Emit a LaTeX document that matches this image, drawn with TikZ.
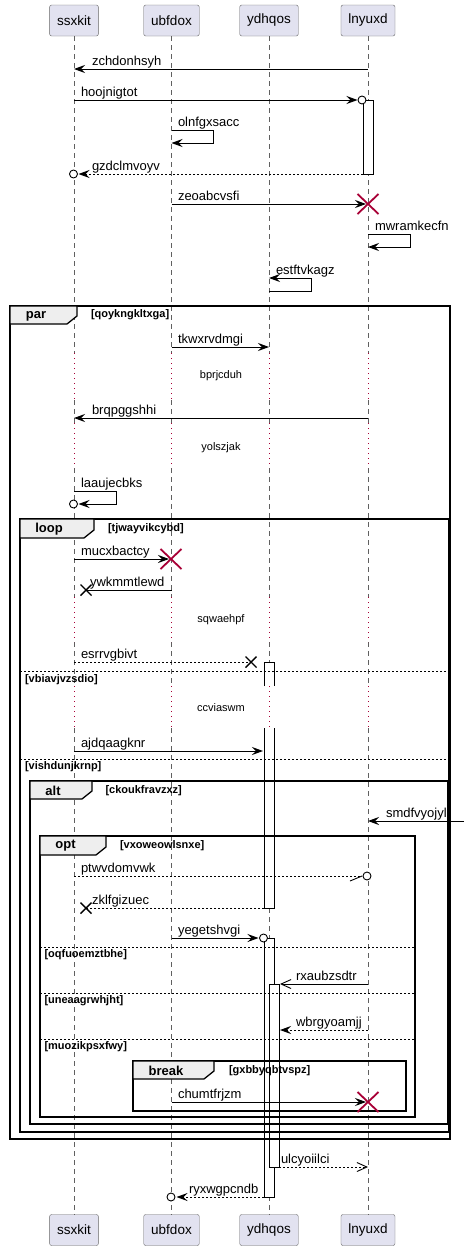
\documentclass[tikz,border=0pt]{standalone}
\usepackage{fontspec}
\setmainfont{Liberation Sans}
\usetikzlibrary{arrows.meta}
\definecolor{partfill}{HTML}{E2E2F0}
\definecolor{killred}{HTML}{A80036}
\definecolor{tabfill}{HTML}{EEEEEE}
\definecolor{lifegray}{HTML}{606060}

\begin{document}
\begin{tikzpicture}[x=1pt, y=-1pt,
  every node/.style={inner sep=0pt, outer sep=0pt},
  part/.style={draw=black!60, fill=partfill, rounded corners=2pt, minimum height=31pt, inner xsep=7.5pt, font=\fontsize{13.5}{16}\selectfont},
  life/.style={lifegray, line width=0.7pt, dash pattern=on 5pt off 4pt},
  pause/.style={killred, line width=0.9pt, dash pattern=on 1pt off 4pt},
  actbox/.style={fill=white},
  actline/.style={black, line width=0.9pt},
  frame/.style={draw=black, line width=1.3pt},
  tab/.style={draw=black, fill=tabfill, line width=1.3pt},
  sep/.style={black, line width=0.8pt, dash pattern=on 2pt off 2pt},
  tabtxt/.style={font=\fontsize{13}{15}\bfseries\selectfont},
  cond/.style={anchor=west, font=\fontsize{11}{13}\bfseries\selectfont},
  msg/.style={line width=0.9pt, -{Stealth[length=11pt, width=8pt, inset=4pt]}},
  ret/.style={msg, dash pattern=on 2pt off 2pt},
  async/.style={line width=0.9pt, -{Straight Barb[length=10pt, width=9pt]}},
  plain/.style={line width=0.9pt},
  lbl/.style={anchor=base west, font=\fontsize{13}{15}\selectfont},
  delaytxt/.style={font=\fontsize{11}{13}\selectfont},
  ring/.style={circle, draw=black, fill=white, line width=0.9pt, minimum size=8pt},
  kill/.style={killred, line width=1.8pt},
  lost/.style={black, line width=1.4pt}]
\useasboundingbox (0,0) rectangle (464,1251);

% participants
\node[part] (ssxkit) at (74,20.5) {ssxkit};
\node[part] (ubfdox) at (171.5,20.5) {ubfdox};
\node[part] (ydhqos) at (269,20.5) {ydhqos};
\node[part] (lnyuxd) at (368,20.5) {lnyuxd};
\node[part] (ssxkit-b) at (74,1230) {ssxkit};
\node[part] (ubfdox-b) at (171.5,1230) {ubfdox};
\node[part] (ydhqos-b) at (269,1230) {ydhqos};
\node[part] (lnyuxd-b) at (368,1230) {lnyuxd};

% group tabs (filled first, lifelines run over them)
\fill[tabfill] (10,306) -- (77,306) -- (77,316) -- (67,324) -- (10,324) -- cycle;
\fill[tabfill] (20,519) -- (94,519) -- (94,530) -- (84,538) -- (20,538) -- cycle;
\fill[tabfill] (30,781) -- (92,781) -- (92,791) -- (82,799) -- (30,799) -- cycle;
\fill[tabfill] (40,836) -- (106,836) -- (106,847) -- (96,855) -- (40,855) -- cycle;
\fill[tabfill] (133,1061) -- (214,1061) -- (214,1071) -- (204,1079) -- (133,1079) -- cycle;

% lifelines
\foreach \p in {ssxkit,ubfdox,ydhqos,lnyuxd} {
  \draw[life] (\p.south) -- (\p |- 0,353);
  \draw[life] (\p |- 0,400) -- (\p |- 0,423);
  \draw[life] (\p |- 0,468) -- (\p |- 0,597);
  \draw[life] (\p |- 0,642) -- (\p |- 0,686);
  \draw[life] (\p |- 0,728) -- (\p-b.north);
}

% activations
\fill[actbox] (363,100) rectangle (373,174);
\draw[actline] (363,100) rectangle (373,174);
\fill[actbox] (264,662) rectangle (274,908);
\draw[actline] (264,686) -- (264,662) -- (274,662) -- (274,686);
\draw[actline] (264,728) -- (264,908) -- (274,908) -- (274,728);
\fill[actbox] (264,938) rectangle (274,1197);
\draw[actline] (264,938) rectangle (274,1197);
\fill[actbox] (269,984) rectangle (279,1167);
\draw[actline] (269,984) rectangle (279,1167);

% delays
\foreach \p in {ssxkit,ubfdox,ydhqos,lnyuxd} {
  \draw[pause] (\p |- 0,353) -- (\p |- 0,400);
  \draw[pause] (\p |- 0,423) -- (\p |- 0,468);
  \draw[pause] (\p |- 0,597) -- (\p |- 0,642);
  \draw[pause] (\p |- 0,686) -- (\p |- 0,728);
}
\node[delaytxt] (d1) at (221,376) {bprjcduh};
\node[delaytxt] (d2) at (221,448) {yolszjak};
\node[delaytxt] (d3) at (221,620) {sqwaehpf};
\node[delaytxt] (d4) at (221,708) {ccviaswm};

% groups
\draw[frame] (10,306) rectangle (450,1139);
\draw[tab] (10,306) -- (77,306) -- (77,316) -- (67,324) -- (10,324) -- cycle;
\node[tabtxt] (parTab) at (36,316) {par};
\node[cond] (parCond) at (91,315) {[qoykngkltxga]};

\draw[frame] (20,519) rectangle (449,1132);
\draw[tab] (20,519) -- (94,519) -- (94,530) -- (84,538) -- (20,538) -- cycle;
\node[tabtxt] (loopTab) at (49,529) {loop};
\node[cond] (loopCond) at (108,529) {[tjwayvikcybd]};
\draw[sep] (20,671) -- (449,671);
\node[cond] (loopElseA) at (25,680) {[vbiavjvzsdio]};
\draw[sep] (20,759) -- (449,759);
\node[cond] (loopElseB) at (25,767) {[vishdunjkrnp]};

\draw[frame] (30,781) rectangle (448,1124);
\draw[tab] (30,781) -- (92,781) -- (92,791) -- (82,799) -- (30,799) -- cycle;
\node[tabtxt] (altTab) at (53,791) {alt};
\node[cond] (altCond) at (105.5,791) {[ckoukfravzxz]};

\draw[frame] (40,836) rectangle (415,1117);
\draw[tab] (40,836) -- (106,836) -- (106,847) -- (96,855) -- (40,855) -- cycle;
\node[tabtxt] (optTab) at (65.5,846) {opt};
\node[cond] (optCond) at (120,846) {[vxoweowlsnxe]};
\draw[sep] (40,947) -- (415,947);
\node[cond] (optElseA) at (44.5,955) {[oqfuoemztbhe]};
\draw[sep] (40,993) -- (415,993);
\node[cond] (optElseB) at (44.5,1001) {[uneaagrwhjht]};
\draw[sep] (40,1039) -- (415,1039);
\node[cond] (optElseC) at (44.5,1047) {[muozikpsxfwy]};

\draw[frame] (133,1061) rectangle (406,1111);
\draw[tab] (133,1061) -- (214,1061) -- (214,1071) -- (204,1079) -- (133,1079) -- cycle;
\node[tabtxt] (breakTab) at (166,1071) {break};
\node[cond] (breakCond) at (229,1071) {[gxbbyqbtvspz]};

% messages
\draw[msg] (lnyuxd |- 0,69) -- (ssxkit |- 0,69);
\node[lbl] (m1) at (92,65) {zchdonhsyh};
\draw[msg] (ssxkit |- 0,100) -- (357.5,100);
\node[ring] (r1) at (362,100) {};
\node[lbl] (m2) at (81,96) {hoojnigtot};
\draw[msg] (ubfdox |- 0,130) -- (213,130) -- (213,143) -- (ubfdox |- 0,143);
\node[lbl] (m3) at (178,126) {olnfgxsacc};
\draw[ret] (363,174) -- (78.5,174);
\node[ring] (r2) at (73.5,174) {};
\node[lbl] (m4) at (92,170) {gzdclmvoyv};
\draw[msg] (ubfdox |- 0,204) -- (366,204);
\draw[kill] (357.5,194) -- (378.5,214) (357.5,214) -- (378.5,194);
\node[lbl] (m5) at (178,200) {zeoabcvsfi};
\draw[msg] (lnyuxd |- 0,234) -- (410,234) -- (410,247) -- (lnyuxd |- 0,247);
\node[lbl] (m6) at (375,230) {mwramkecfn};
\draw[msg, {Stealth[length=11pt, width=8pt, inset=4pt]}-] (ydhqos |- 0,278) -- (311,278) -- (311,291) -- (ydhqos |- 0,291);
\node[lbl] (m7) at (276,274) {estftvkagz};

\draw[msg] (ubfdox |- 0,347) -- (ydhqos |- 0,347);
\node[lbl] (m8) at (178,343) {tkwxrvdmgi};
\draw[msg] (lnyuxd |- 0,418) -- (ssxkit |- 0,418);
\node[lbl] (m9) at (92,414) {brqpggshhi};
\draw[msg] (ssxkit |- 0,491) -- (116,491) -- (116,504) -- (78.5,504);
\node[ring] (r3) at (73.5,504) {};
\node[lbl] (m10) at (81,487) {laaujecbks};

\draw[msg] (ssxkit |- 0,559) -- (169,559);
\draw[kill] (160.5,549) -- (181.5,569) (160.5,569) -- (181.5,549);
\node[lbl] (m11) at (81,555) {mucxbactcy};
\draw[plain] (ubfdox |- 0,590) -- (86,590);
\draw[lost] (80.5,584.5) -- (91.5,595.5) (80.5,595.5) -- (91.5,584.5);
\node[lbl] (m12) at (90,586) {ywkmmtlewd};
\draw[plain, dash pattern=on 2pt off 2pt] (ssxkit |- 0,662) -- (251,662);
\draw[lost] (245.5,656.5) -- (256.5,667.5) (245.5,667.5) -- (256.5,656.5);
\node[lbl] (m13) at (81,658) {esrrvgbivt};
\draw[msg] (ssxkit |- 0,751) -- (263,751);
\node[lbl] (m14) at (81,747) {ajdqaagknr};

\draw[msg] (464,821) -- (lnyuxd |- 0,821);
\node[lbl] (m15) at (386,817) {smdfvyojyl};
\draw[plain, dash pattern=on 2pt off 2pt] (ssxkit |- 0,876) -- (362,876);
\draw[plain] (350,881) -- (362,876);
\node[ring] (r4) at (367,876) {};
\node[lbl] (m16) at (81,872) {ptwvdomvwk};
\draw[plain, dash pattern=on 2pt off 2pt] (264,908) -- (86,908);
\draw[lost] (80.5,902.5) -- (91.5,913.5) (80.5,913.5) -- (91.5,902.5);
\node[lbl] (m17) at (92,904) {zklfgizuec};
\draw[msg] (ubfdox |- 0,938) -- (258.5,938);
\node[ring] (r5) at (263.5,938) {};
\node[lbl] (m18) at (178,934) {yegetshvgi};
\draw[async] (lnyuxd |- 0,984) -- (280,984);
\node[lbl] (m19) at (296,980) {rxaubzsdtr};
\draw[ret] (lnyuxd |- 0,1030) -- (280,1030);
\node[lbl] (m20) at (296,1026) {wbrgyoamjj};
\draw[msg] (ubfdox |- 0,1102) -- (366,1102);
\draw[kill] (357.5,1092) -- (378.5,1112) (357.5,1112) -- (378.5,1092);
\node[lbl] (m21) at (178,1098) {chumtfrjzm};

\draw[async, dash pattern=on 2pt off 2pt] (279,1167) -- (lnyuxd |- 0,1167);
\node[lbl] (m22) at (281,1163) {ulcyoiilci};
\draw[ret] (264,1197) -- (176.5,1197);
\node[ring] (r6) at (171,1197) {};
\node[lbl] (m23) at (189,1193) {ryxwgpcndb};
\end{tikzpicture}
\end{document}
